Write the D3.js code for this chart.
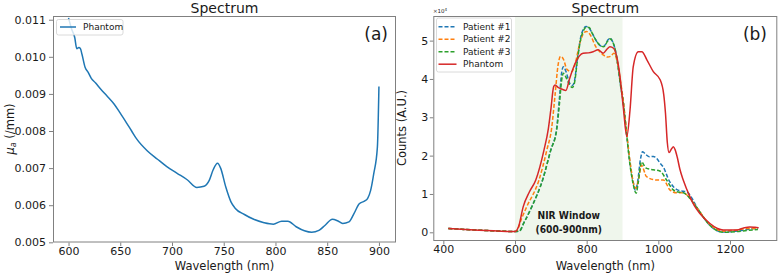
<!DOCTYPE html>
<html>
<head>
<meta charset="utf-8">
<script src="https://cdn.jsdelivr.net/npm/d3@7"></script>
<style>
html,body{margin:0;padding:0;background:#fff;}
svg{display:block;}
text{font-family:"DejaVu Sans",sans-serif;fill:#1a1a1a;}
</style>
</head>
<body>
<svg id="chart" width="779" height="276"></svg>
<script>
// ---------- Data: panel (a) ----------
const wlA = [600,603,606,608,610,611.5,613,616,619,622,626,631,637,644,650,656,661,666,676,686,695,705,715,724,731,736,740,744,747,752,757,761,770,779,789,798,806,812,820,828,835,842,848,855,860,865,871,876,881,886,889,892,895,898.5,900];
const muA = [0.01105,0.01075,0.01052,0.01022,0.01025,0.01022,0.01007,0.00972,0.00958,0.00942,0.00930,0.00913,0.00895,0.00873,0.00848,0.00822,0.00800,0.00778,0.00747,0.00724,0.00704,0.00686,0.00668,0.00648,0.00651,0.00667,0.00697,0.00713,0.00700,0.00649,0.00609,0.00592,0.00575,0.00562,0.00553,0.00549,0.00557,0.00557,0.00542,0.00531,0.00527,0.00532,0.00546,0.00562,0.00558,0.00551,0.00555,0.00578,0.00604,0.00611,0.00618,0.00640,0.00685,0.00756,0.00920];
const xTicksA = [600,650,700,750,800,850,900];
const yTicksA = [0.005,0.006,0.007,0.008,0.009,0.010,0.011];

// ---------- Data: panel (b) ----------
const wlP1 = [414,450,500,550,590,600,612,625,647,677,700,716,724,730,735,742,752,760,766,775,785,798,805,815,830,840,848,858,865,872,880,888,895,902,910,921,930,936,942,950,956,965,975,986,995,1005,1014,1030,1042,1055,1070,1080,1095,1107,1125,1144,1165,1181,1210,1240,1260,1278];
const cntP1 = [1000,800,550,350,200,180,300,2500,6700,13650,21500,27000,35000,41500,43200,42000,39000,38300,39500,46000,51500,53700,53500,52000,49500,48600,48500,50000,50600,49800,47500,43000,38000,34000,27000,18000,13000,11000,13000,19000,21000,20300,19700,19800,19300,18000,17000,13500,11900,11000,10700,10500,8700,6600,4000,1800,400,100,200,600,900,1000];

const wlP2 = [414,450,500,550,590,600,606,618,633,667,689,702,712,720,727,735,745,758,768,780,792,800,810,825,846,858,867,876,888,895,902,910,921,933,937,945,953,967,995,1014,1033,1051,1070,1085,1107,1144,1181,1220,1250,1278];
const cntP2 = [1000,800,550,350,200,180,500,3500,6700,13650,21500,27000,36000,43500,45900,45200,42500,41900,44000,49000,52000,52400,51500,48500,46300,45700,45900,46700,43200,39000,34500,27500,18500,12000,11500,14000,17500,14500,13650,13650,11000,10300,10300,9200,6500,2000,300,600,1000,1000];

const wlP3 = [414,450,500,550,590,600,612,625,647,677,700,716,724,730,735,742,752,760,766,775,785,800,807,815,830,840,848,858,865,872,880,888,895,902,910,921,930,938,944,953,965,986,1004,1023,1040,1051,1070,1084,1107,1144,1181,1220,1250,1278];
const cntP3 = [1000,800,550,350,200,180,300,2500,6700,13650,21500,26500,33500,39500,41500,40500,38500,37800,39000,45500,51000,53500,53400,52000,49500,48600,48400,49800,50500,49800,47500,43000,38000,34000,27000,17500,12500,10200,13000,18400,16800,16300,16000,13650,11200,10600,10300,9300,6500,1800,0,200,500,700];

const wlPh = [414,450,500,550,590,600,610,623,640,658,681,693,700,708,712,720,732,742,752,768,790,805,818,832,846,857,865,875,884,893,902,912,921,930,944,954,968,986,1005,1015,1020,1025,1030,1037,1042,1047,1053,1060,1070,1088,1100,1116,1144,1165,1181,1219,1240,1255,1270,1280];
const cntPh = [1000,800,550,350,200,180,1500,6700,10500,13650,21500,27000,32000,38000,38400,37800,37300,37000,40000,44100,46700,46800,47100,47600,46700,47800,48400,48000,45800,40600,32800,25000,31900,43200,47100,47100,45000,41900,39800,36000,31000,23500,20800,21800,22300,21500,19500,16500,13500,9300,7000,4900,2300,1000,600,600,1200,1400,1300,1200];

const seriesNames = ["Patient #1","Patient #2","Patient #3","Phantom"];
const seriesColors = ["#1f77b4","#ff7f0e","#2ca02c","#d62728"];
const xTicksB = [400,600,800,1000,1200];
const yTicksB = [0,10000,20000,30000,40000,50000];
const nirWindow = [600,900];

// ---------- Drawing ----------
const svg = d3.select("#chart");
const spineColor = "#808080";

function frame(g, x, y, xt, yt, yfmt, ypad, tickLen){
  const [x0,x1] = x.range(), [y0,y1] = y.range();
  const xa = g.append("g").attr("transform",`translate(0,${y0})`)
    .call(d3.axisBottom(x).tickValues(xt).tickSize(3.5).tickPadding(1).tickFormat(d3.format("d")));
  const ya = g.append("g").attr("transform",`translate(${x0},0)`)
    .call(d3.axisLeft(y).tickValues(yt).tickSize(tickLen).tickPadding(ypad).tickFormat(yfmt));
  [xa,ya].forEach(a=>{
    a.select(".domain").remove();
    a.selectAll(".tick line").attr("stroke",spineColor);
    a.selectAll(".tick text").style("font-family","DejaVu Sans").style("font-size","11px").attr("fill","#1a1a1a");
  });
  g.append("rect").attr("x",x0+0.5).attr("y",y1+0.5).attr("width",x1-x0-1).attr("height",y0-y1-1)
    .attr("fill","none").attr("stroke",spineColor).attr("stroke-width",1);
}

// Panel (a)
const xA = d3.scaleLinear().domain([585,916.5]).range([53,396]);
const yA = d3.scaleLinear().domain([0.004995,0.0111]).range([242.5,16]);
const gA = svg.append("g");
gA.append("defs").append("clipPath").attr("id","clipA").append("rect")
  .attr("x",53).attr("y",16).attr("width",343).attr("height",226.5);
gA.append("path").datum(d3.zip(wlA,muA))
  .attr("clip-path","url(#clipA)")
  .attr("fill","none").attr("stroke","#1f77b4").attr("stroke-width",1.5)
  .attr("d", d3.line().x(d=>xA(d[0])).y(d=>yA(d[1])).curve(d3.curveMonotoneX));
frame(gA, xA, yA, xTicksA, yTicksA, d3.format(".3f"), 3, 4);
gA.append("text").attr("x",224.5).attr("y",12.5).attr("text-anchor","middle").style("font-size","14px").text("Spectrum");
gA.append("text").attr("x",224.5).attr("y",270).attr("text-anchor","middle").style("font-size","11.5px").text("Wavelength (nm)");
const ylA = gA.append("text").attr("transform","translate(14,129) rotate(-90)").attr("text-anchor","middle").style("font-size","11.5px");
ylA.append("tspan").style("font-style","italic").text("μ");
ylA.append("tspan").style("font-style","italic").style("font-size","8px").attr("dy",2).text("a");
ylA.append("tspan").attr("dy",-2).text(" (/mm)");
gA.append("text").attr("x",388).attr("y",39.5).attr("text-anchor","end").style("font-size","17px").text("(a)");
// legend (a)
gA.append("rect").attr("x",56.5).attr("y",19.5).attr("width",66.5).attr("height",15.5).attr("rx",2)
  .attr("fill","#fff").attr("fill-opacity",0.8).attr("stroke","#d0d0d0").attr("stroke-width",0.8);
gA.append("line").attr("x1",60).attr("x2",76).attr("y1",27).attr("y2",27).attr("stroke","#1f77b4").attr("stroke-width",1.5);
gA.append("text").attr("x",83).attr("y",30.2).style("font-size","9px").text("Phantom");

// Panel (b)
const xB = d3.scaleLinear().domain([372,1332]).range([433.3,777.3]);
const yB = d3.scaleLinear().domain([-2270,56420]).range([241,16]);
const gB = svg.append("g");
gB.append("rect").attr("x",xB(nirWindow[0])).attr("y",16).attr("width",xB(nirWindow[1])-xB(nirWindow[0])).attr("height",225)
  .attr("fill","#eff6ec");
gB.append("defs").append("clipPath").attr("id","clipB").append("rect")
  .attr("x",433.3).attr("y",16).attr("width",344).attr("height",225);
const allSeries = [[wlP1,cntP1],[wlP2,cntP2],[wlP3,cntP3],[wlPh,cntPh]];
const lineB = d3.line().x(d=>xB(d[0])).y(d=>yB(d[1])).curve(d3.curveMonotoneX);
allSeries.forEach((s,i)=>{
  gB.append("path").datum(d3.zip(s[0],s[1]))
    .attr("clip-path","url(#clipB)")
    .attr("fill","none").attr("stroke",seriesColors[i]).attr("stroke-width",1.5)
    .attr("stroke-dasharray", i<3 ? "4,2" : null)
    .attr("d", lineB);
});
frame(gB, xB, yB, xTicksB, yTicksB, d=>d3.format("d")(d/10000), 1.5, 3.5);
gB.append("text").attr("x",605.3).attr("y",12.5).attr("text-anchor","middle").style("font-size","14px").text("Spectrum");
gB.append("text").attr("x",605.3).attr("y",270).attr("text-anchor","middle").style("font-size","11.5px").text("Wavelength (nm)");
gB.append("text").attr("transform","translate(406,128) rotate(-90)").attr("text-anchor","middle").style("font-size","11.5px").text("Counts (A.U.)");
const sci = gB.append("text").attr("x",433).attr("y",13).style("font-size","5.5px");
sci.append("tspan").text("×10");
sci.append("tspan").attr("dy",-2).style("font-size","4px").text("4");
gB.append("text").attr("x",767).attr("y",39.5).attr("text-anchor","end").style("font-size","17px").text("(b)");
const nx = (xB(nirWindow[0])+xB(nirWindow[1]))/2;
const nirFont = "'Liberation Sans Narrow','DejaVu Sans Condensed',sans-serif";
gB.append("text").attr("x",nx).attr("y",219).attr("text-anchor","middle")
  .style("font-family",nirFont).style("font-weight","bold").style("font-size","10.2px").text("NIR Window");
gB.append("text").attr("x",nx).attr("y",233).attr("text-anchor","middle")
  .style("font-family",nirFont).style("font-weight","bold").style("font-size","10.2px").text("(600-900nm)");
// legend (b)
gB.append("rect").attr("x",436.5).attr("y",18).attr("width",75).attr("height",54).attr("rx",2)
  .attr("fill","#fff").attr("fill-opacity",0.8).attr("stroke","#d0d0d0").attr("stroke-width",0.8);
seriesNames.forEach((n,i)=>{
  const yy = 26.7 + i*12.5;
  gB.append("line").attr("x1",438.5).attr("x2",456.5).attr("y1",yy).attr("y2",yy)
    .attr("stroke",seriesColors[i]).attr("stroke-width",1.5).attr("stroke-dasharray", i<3 ? "4,2" : null);
  gB.append("text").attr("x",463).attr("y",yy+3.2).style("font-size","9px").text(n);
});
</script>
</body>
</html>
